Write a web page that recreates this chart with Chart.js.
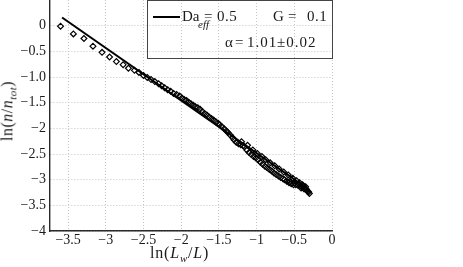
<!DOCTYPE html>
<html><head><meta charset="utf-8">
<script src="https://cdn.jsdelivr.net/npm/chart.js@4/dist/chart.umd.min.js"></script>
<style>
html,body{margin:0;padding:0;background:#fff;}
#wrap{position:relative;width:463px;height:267px;overflow:hidden;font-family:"Liberation Serif",serif;color:#1a1a1a;}
canvas{position:absolute;left:0;top:0;}
.t{position:absolute;white-space:nowrap;line-height:1;}
</style></head><body>
<div id="wrap">
<canvas id="c" width="463" height="267"></canvas>
<div id="legend" style="position:absolute;left:147px;top:0px;width:186px;height:59px;box-sizing:border-box;border:1px solid #444;"></div>
<div style="position:absolute;left:153px;top:16px;width:27px;height:2px;background:#000;"></div>
<span class="t" style="left:182px;top:9px;font-size:15px;">Da</span>
<span class="t" style="left:198px;top:19px;font-size:11px;font-style:italic;">eff</span>
<span class="t" style="left:204px;top:9px;font-size:15px;">=</span>
<span class="t" style="left:217px;top:9px;font-size:15px;letter-spacing:0.5px;">0.5</span>
<span class="t" style="left:273px;top:9px;font-size:15px;">G</span>
<span class="t" style="left:288px;top:9px;font-size:15px;">=</span>
<span class="t" style="left:307px;top:9px;font-size:15px;letter-spacing:0.5px;">0.1</span>
<span class="t" style="left:225px;top:35px;font-size:15px;">α</span>
<span class="t" style="left:235px;top:35px;font-size:15px;">=</span>
<span class="t" style="left:247px;top:35px;font-size:15px;letter-spacing:1px;">1.01</span>
<span class="t" style="left:277px;top:35px;font-size:15px;letter-spacing:1px;">±0.02</span>
<div class="t" id="xtitle" style="left:150px;top:245px;font-size:16px;letter-spacing:0.8px;">ln(<i>L</i><sub style="font-size:11px;"><i>w</i></sub>/<i>L</i>)</div>
<div class="t" id="ytitle" style="left:9px;top:111px;font-size:16px;letter-spacing:0.5px;transform:translate(-50%,-50%) rotate(-90deg);">ln(<i>n</i>/<i>n</i><sub style="font-size:11px;"><i>tot</i></sub>)</div>
</div>
<script>
// Scatter data
const dataX = [-3.60,-3.43,-3.29,-3.17,-3.05,-2.95,-2.86,-2.77,-2.70,-2.62,-2.56,-2.50,-2.45,-2.40,-2.35,-2.30,-2.26,-2.22,-2.18,-2.14,-2.10,-2.06,-2.02,-1.99,-1.96,-1.93,-1.90,-1.87,-1.84,-1.81,-1.78,-1.75,-1.72,-1.69,-1.66,-1.63,-1.60,-1.57,-1.54,-1.51,-1.49,-1.46,-1.43,-1.40,-1.38,-1.35,-1.32,-1.30,-1.27,-1.24,-1.21,-1.18,-1.16,-1.13,-1.10,-1.07,-1.04,-1.01,-0.98,-0.95,-0.92,-0.89,-0.86,-0.83,-0.80,-0.77,-0.74,-0.71,-0.68,-0.65,-0.63,-0.60,-0.57,-0.54,-0.51,-0.48,-0.45,-0.42,-0.40,-0.38,-0.36,-0.34,-0.32,-0.30,
  -1.20,-1.12,-1.05,-0.99,-0.93,-0.88,-0.82,-0.76,-0.70,-0.64,-0.58,-0.52,-0.47,-0.43,-0.39,-0.35,
  -0.56,-0.50,-0.44,-0.41,-0.37,-0.33,-0.31];
const dataY = [-0.01,-0.16,-0.25,-0.40,-0.52,-0.61,-0.70,-0.76,-0.83,-0.87,-0.91,-0.97,-1.01,-1.05,-1.09,-1.13,-1.17,-1.21,-1.25,-1.28,-1.32,-1.34,-1.37,-1.41,-1.44,-1.46,-1.49,-1.52,-1.55,-1.58,-1.60,-1.63,-1.67,-1.71,-1.74,-1.78,-1.81,-1.84,-1.87,-1.90,-1.93,-1.97,-2.01,-2.05,-2.08,-2.13,-2.18,-2.22,-2.27,-2.30,-2.32,-2.34,-2.36,-2.42,-2.47,-2.51,-2.55,-2.58,-2.61,-2.66,-2.70,-2.74,-2.77,-2.80,-2.83,-2.87,-2.90,-2.93,-2.96,-2.98,-3.00,-3.03,-3.06,-3.08,-3.10,-3.10,-3.11,-3.12,-3.13,-3.13,-3.16,-3.19,-3.23,-3.27,
  -2.26,-2.33,-2.42,-2.49,-2.55,-2.61,-2.67,-2.73,-2.79,-2.85,-2.91,-2.97,-3.02,-3.06,-3.10,-3.14,
  -3.04,-3.06,-3.08,-3.16,-3.18,-3.21,-3.24];
// Power-law fit line (alpha = 1.01)
const fitX = [-3.58, -0.30];
const fitY = [0.16, -3.20];
// Axes
const xTicks = [-3.5,-3,-2.5,-2,-1.5,-1,-0.5,0];
const xTickLabels = ["\u22123.5","\u22123","\u22122.5","\u22122","\u22121.5","\u22121","\u22120.5","0"];
const yTicks = [-4,-3.5,-3,-2.5,-2,-1.5,-1,-0.5,0];
const yTickLabels = ["\u22124","\u22123.5","\u22123","\u22122.5","\u22122","\u22121.5","\u22121.0","\u22120.5","0"];
const xRange = [-3.74, 0];
const yRange = [-4, 0.5];

const tickFont = {family:"'Liberation Serif', 'Times New Roman', serif", size:14};
const gridOpts = {color:'#c4c4c4', lineWidth:1, drawTicks:false, tickLength:0};
const borderOpts = {display:true, color:'#2a2a2a', width:1.4, dash:[1,2]};

new Chart(document.getElementById('c'), {
  type:'scatter',
  data:{
    datasets:[
      {type:'line', data: fitX.map((x,i)=>({x, y:fitY[i]})), borderColor:'#000', borderWidth:2, pointRadius:0, fill:false, order:0},
      {type:'scatter', data: dataX.map((x,i)=>({x, y:dataY[i]})), pointStyle:'rectRot', pointRadius:2.9, borderColor:'#000', borderWidth:1.2, backgroundColor:'rgba(0,0,0,0)', order:1}
    ]
  },
  options:{
    responsive:false, animation:false, devicePixelRatio:1,
    layout:{autoPadding:false, padding:{left:0, right:131, top:0, bottom:0}},
    plugins:{legend:{display:false}, tooltip:{enabled:false}},
    scales:{
      x:{type:'linear', min:xRange[0], max:xRange[1],
        afterBuildTicks:(a)=>{a.ticks = xTicks.map(v=>({value:v}));},
        afterFit:(a)=>{a.height = 36; a.paddingLeft = 0; a.paddingRight = 0;},
        ticks:{font:tickFont, color:'#1a1a1a', padding:1, maxRotation:0, autoSkip:false,
          callback:(v,i)=>xTickLabels[i]},
        grid:gridOpts, border:borderOpts},
      y:{type:'linear', min:yRange[0], max:yRange[1],
        afterBuildTicks:(a)=>{a.ticks = yTicks.map(v=>({value:v}));},
        afterFit:(a)=>{a.width = 50; a.paddingTop = 0; a.paddingBottom = 0;},
        ticks:{font:tickFont, color:'#1a1a1a', padding:4, autoSkip:false,
          callback:(v,i)=>yTickLabels[i]},
        grid:gridOpts, border:borderOpts}
    }
  }
});
</script>
</body></html>
